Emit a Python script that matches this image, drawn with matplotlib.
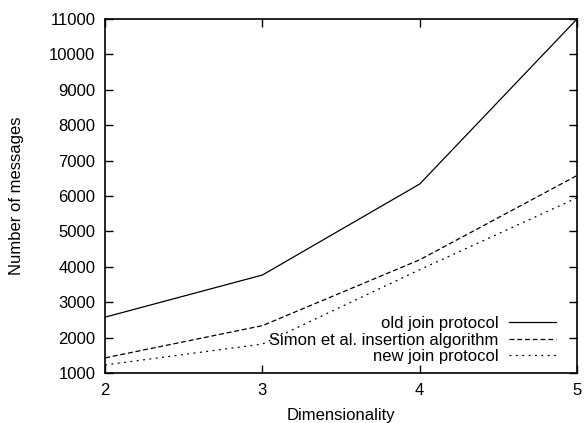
import matplotlib
matplotlib.use('Agg')
import matplotlib.pyplot as plt

plt.rcParams['font.family'] = ['Liberation Sans', 'DejaVu Sans']

# datos
dimensiones = [2, 3, 4, 5]
old_join = [2580, 3770, 6340, 11000]
simon = [1430, 2340, 4200, 6580]
new_join = [1230, 1820, 3920, 5950]

fig = plt.figure(figsize=(5.84, 4.23), dpi=100)
ax = fig.add_axes([0.18, 0.118, 0.808, 0.837])

ax.plot(dimensiones, old_join, color='black', lw=0.9, label='old join protocol')
ax.plot(dimensiones, simon, color='black', lw=0.9, dashes=(4, 2.2),
        label='Simon et al. insertion algorithm')
ax.plot(dimensiones, new_join, color='black', lw=0.9, dashes=(1.5, 3.6),
        label='new join protocol')

ax.set_xlim(2, 5)
ax.set_ylim(1000, 11000)
ax.set_xticks(dimensiones)
ax.set_yticks(range(1000, 11001, 1000))
ax.tick_params(direction='in', length=6, width=1, top=True, right=True,
               labelsize=12, pad=7)
for s in ax.spines.values():
    s.set_linewidth(1.2)

ax.set_xlabel('Dimensionality', fontsize=12, labelpad=7)
ax.set_ylabel('Number of messages', fontsize=12, labelpad=18)

ax.legend(loc='lower right', bbox_to_anchor=(0.975, 0.0), frameon=False,
          markerfirst=False, fontsize=12, handlelength=2.8,
          labelspacing=0.08, handletextpad=0.65, borderaxespad=0.15)

fig.savefig('out.png', dpi=100)
